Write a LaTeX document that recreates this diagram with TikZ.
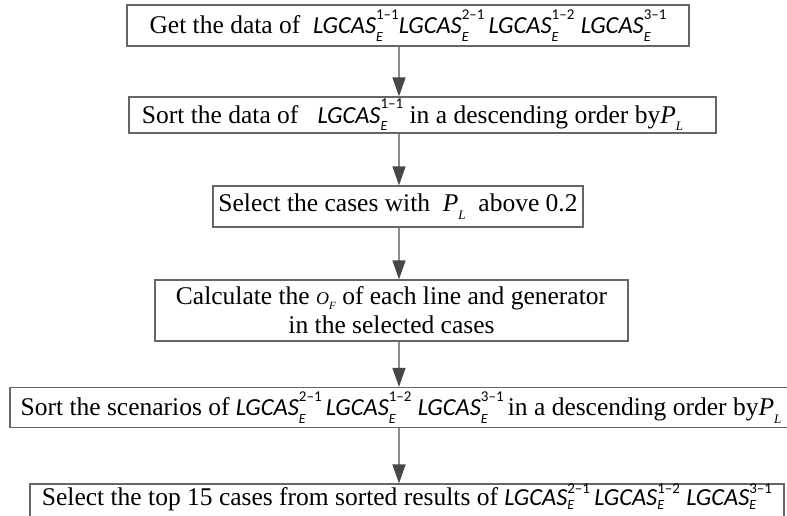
\documentclass[tikz,border=0pt]{standalone}
\usepackage{fontspec}
\setmainfont{Liberation Serif}
\newfontfamily\carl{Carlito}
\usetikzlibrary{arrows.meta}
% offsets of the stacked indices
\newcommand{\subdrop}{0.3em}
\newcommand{\suprise}{0.55em}
% italic sans symbol with stacked superscript and subscript E
\newcommand{\lgc}[1]{{\carl\itshape\fontsize{24.5}{28}\selectfont LGCAS}\rlap{\raisebox{-\subdrop}{\carl\itshape\fontsize{14}{14}\selectfont E}}\raisebox{\suprise}{\carl\fontsize{15}{15}\selectfont #1}}
\newcommand{\PL}{\textit{P}\raisebox{-0.3em}{\textit{\fontsize{13}{13}\selectfont L}}}
\newcommand{\OF}{{\fontsize{18}{18}\selectfont\textit{O}\raisebox{-0.25em}{\textit{\fontsize{11}{11}\selectfont F}}}}
\tikzset{
  stepbox/.style={draw=black!60, line width=1.3pt, inner sep=0pt, align=center,
    font=\fontsize{25.5}{29}\selectfont, text=black},
  arr/.style={draw=black!45, line width=1.5pt,
    -{Triangle[length=19pt,width=13pt,fill=black!72,color=black!72]}, shorten >=0pt}
}
\begin{document}
\begin{tikzpicture}[x=1pt,y=-1pt]
\useasboundingbox (0,0) rectangle (787,516);
\fill[white] (0,0) rectangle (787,516);
\coordinate (ax) at (399,0);
\node[stepbox, minimum width=562pt, minimum height=41pt] (b1) at (408,25.5)
  {Get the data of \ \lgc{1–1}\lgc{2–1}\,\lgc{1–2}\ \lgc{3–1}};
\node[stepbox, minimum width=587pt, minimum height=36pt] (b2) at (422.5,115)
  {Sort the data of \ \ \lgc{1–1}\ in a descending order by\PL\hspace*{20pt}};
\node[stepbox, minimum width=370pt, minimum height=41pt] (b3) at (398,206.5)
  {Select the cases with \ \PL\ \ above 0.2};
\node[stepbox, minimum width=473pt, minimum height=61pt] (b4) at (391.5,310.5)
  {Calculate the \OF\ of each line and generator\\in the selected cases};
\node[stepbox, minimum width=782pt, minimum height=40pt] (b5) at (401,407.5)
  {Sort the scenarios of \lgc{2–1}\,\lgc{1–2}\ \lgc{3–1}\,in a descending order by\PL};
\node[stepbox, minimum width=754pt, minimum height=34pt] (b6) at (407,501)
  {\renewcommand{\subdrop}{0.16em}\renewcommand{\suprise}{0.48em}%
   \raisebox{3.5pt}[\height][\depth]{Select the top 15 cases from sorted results of \lgc{2–1}\,\lgc{1–2}\ \lgc{3–1}}};
\draw[arr] (b1.south -| ax) -- (b2.north -| ax);
\draw[arr] (b2.south -| ax) -- (b3.north -| ax);
\draw[arr] (b3.south -| ax) -- (b4.north -| ax);
\draw[arr] (b4.south -| ax) -- (b5.north -| ax);
\draw[arr] (b5.south -| ax) -- (b6.north -| ax);
\end{tikzpicture}
\end{document}
